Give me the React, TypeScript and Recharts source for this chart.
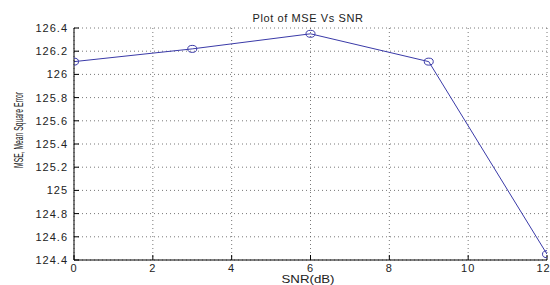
import React from "react";
import { LineChart, Line, XAxis, YAxis, CartesianGrid } from "recharts";

const snr = [0, 3, 6, 9, 12];
const mse = [126.11, 126.22, 126.35, 126.11, 124.45];
const xTicks = [0, 2, 4, 6, 8, 10, 12];
const yTicks = [124.4, 124.6, 124.8, 125, 125.2, 125.4, 125.6, 125.8, 126, 126.2, 126.4];
const title = "Plot of MSE Vs SNR";
const xLabel = "SNR(dB)";
const yLabel = "MSE, Mean Square Error";

const data = snr.map((s, i) => ({ snr: s, mse: mse[i] }));

const FONT = "'Liberation Sans', Arial, sans-serif";
const TXT = "#222";

const Circle = (props: any) => {
  const { cx, cy } = props;
  if (cx == null || cy == null) return null;
  return <ellipse cx={cx} cy={cy} rx={4.5} ry={3.5} fill="none" stroke="#3a3aa8" strokeWidth={1} />;
};

export default function App() {
  return (
    <div style={{ position: "absolute", left: 0, top: 0, width: 550, height: 285, background: "#fff" }}>
      <svg style={{ position: "absolute", left: 0, top: 0 }} width={550} height={285}>
        <text x={308} y={18} textAnchor="middle" dominantBaseline="central" fontFamily={FONT} fontSize={11} fill={TXT} letterSpacing={0.6}>
          {title}
        </text>
        <text x={308} y={279} textAnchor="middle" dominantBaseline="central" fontFamily={FONT} fontSize={11} fill={TXT} textLength={53} lengthAdjust="spacingAndGlyphs">
          {xLabel}
        </text>
        <text
          x={19}
          y={130}
          transform="rotate(-90 19 130)"
          textAnchor="middle"
          dominantBaseline="central"
          fontFamily={FONT}
          fontSize={12}
          fill={TXT}
          textLength={76}
          lengthAdjust="spacingAndGlyphs"
        >
          {yLabel}
        </text>
      </svg>
      <LineChart
        width={550}
        height={285}
        data={data}
        margin={{ top: 28, right: 3, bottom: 0, left: 0 }}
        style={{ position: "absolute", left: 0, top: 0, fontFamily: FONT }}
      >
        <CartesianGrid stroke="#555" strokeDasharray="1 3" strokeWidth={0.8} />
        <XAxis
          dataKey="snr"
          type="number"
          domain={[0, 12]}
          ticks={xTicks}
          height={25}
          stroke="#000"
          tickSize={-5}
          tickMargin={9}
          tick={{ fontSize: 11, fill: TXT, letterSpacing: 1 }}
          allowDataOverflow
        />
        <XAxis
          xAxisId="top"
          dataKey="snr"
          type="number"
          orientation="top"
          domain={[0, 12]}
          ticks={xTicks}
          height={0}
          stroke="#000"
          tickSize={-5}
          tick={() => <g />}
        />
        <YAxis
          type="number"
          domain={[124.4, 126.4]}
          ticks={yTicks}
          width={74}
          stroke="#000"
          tickSize={-5}
          tickMargin={11}
          tick={{ fontSize: 11, fill: TXT, letterSpacing: 1 }}
          allowDataOverflow
        />
        <YAxis
          yAxisId="right"
          orientation="right"
          type="number"
          domain={[124.4, 126.4]}
          ticks={yTicks}
          width={0}
          stroke="#000"
          tickSize={-5}
          tick={() => <g />}
        />
        <Line
          dataKey="mse"
          stroke="#3a3aa8"
          strokeWidth={1}
          dot={<Circle />}
          isAnimationActive={false}
        />
      </LineChart>
    </div>
  );
}
